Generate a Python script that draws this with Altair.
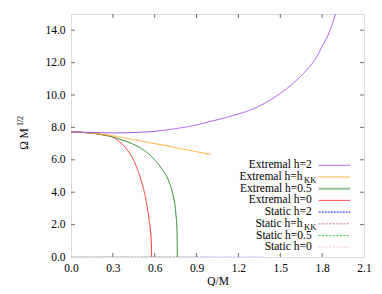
import altair as alt
import pandas as pd

FONT = "'Liberation Serif', 'Times New Roman', serif"
W, H = 293, 243
XMAX, YMAX = 2.1, 15.0

# Extremal curves
q_h2 = [0.0, 0.1, 0.2, 0.3, 0.4, 0.5, 0.6, 0.7, 0.8, 0.9, 1.0, 1.1, 1.2, 1.3, 1.4, 1.5, 1.6, 1.7, 1.75, 1.8, 1.85, 1.9]
w_h2 = [7.72, 7.70, 7.68, 7.66, 7.67, 7.70, 7.76, 7.86, 7.99, 8.15, 8.37, 8.58, 8.83, 9.12, 9.55, 10.10, 10.78, 11.65, 12.20, 13.00, 13.85, 15.10]

q_hkk = [0.0, 0.1, 0.2, 0.3, 0.4, 0.5, 0.6, 0.7, 0.8, 0.9, 1.0]
w_hkk = [7.72, 7.68, 7.60, 7.48, 7.33, 7.16, 7.00, 6.84, 6.66, 6.50, 6.33]

q_h05 = [0.0, 0.1, 0.2, 0.3, 0.4, 0.5, 0.6, 0.65, 0.7, 0.73, 0.75, 0.76, 0.762]
w_h05 = [7.72, 7.68, 7.58, 7.40, 7.12, 6.72, 6.00, 5.45, 4.70, 3.85, 2.80, 1.60, 0.0]

q_h0 = [0.0, 0.1, 0.2, 0.3, 0.35, 0.4, 0.45, 0.5, 0.54, 0.56, 0.575, 0.578]
w_h0 = [7.72, 7.68, 7.58, 7.40, 7.10, 6.65, 5.95, 4.80, 3.40, 2.30, 1.00, 0.0]

# Static curves (Omega = 0)
q_s2 = [0.0, 1.38]
q_skk = [0.0, 1.0]
q_s05 = [0.0, 0.762]
q_s0 = [0.0, 0.578]
w_static = [0.0, 0.0]

labels = ["Extremal h=2", "Extremal h=h", "Extremal h=0.5", "Extremal h=0",
          "Static h=2", "Static h=h", "Static h=0.5", "Static h=0"]
subscripts = ["", "KK", "", "", "", "KK", "", ""]

x_ticks = [0.0, 0.3, 0.6, 0.9, 1.2, 1.5, 1.8, 2.1]
y_ticks = [0.0, 2.0, 4.0, 6.0, 8.0, 10.0, 12.0, 14.0]

styles = [
    dict(color="#a855ee", width=1.0, dash=[1, 0], opacity=1.0),
    dict(color="#ffb030", width=1.0, dash=[1, 0], opacity=1.0),
    dict(color="#2a8a2a", width=1.0, dash=[1, 0], opacity=1.0),
    dict(color="#ff3030", width=1.0, dash=[1, 0], opacity=1.0),
    dict(color="#2020ff", width=1.0, dash=[2, 1], opacity=1.0),
    dict(color="#d89090", width=1.5, dash=[2, 1.5], opacity=0.8),
    dict(color="#40e040", width=1.0, dash=[2, 1.5], opacity=1.0),
    dict(color="#f4c8d4", width=1.0, dash=[2, 1.5], opacity=1.0),
]
legend_styles = list(styles)
legend_styles[2] = dict(color="#2a8a2a", width=2.0, dash=[1, 0], opacity=0.5)
# on the plot the static lines lie on the bottom border and are barely visible
plot_opacity = [1.0, 1.0, 1.0, 1.0, 0.35, 0.35, 0.5, 0.5]

series = [(q_h2, w_h2), (q_hkk, w_hkk), (q_h05, w_h05), (q_h0, w_h0),
          (q_s2, w_static), (q_skk, w_static), (q_s05, w_static), (q_s0, w_static)]

xs = alt.Scale(domain=[0, XMAX], nice=False, zero=False)
ys = alt.Scale(domain=[0, YMAX], nice=False, zero=False)

x_axis = alt.Axis(
    values=x_ticks, format=".1f", title="Q/M", tickSize=0, domain=False,
    grid=False, labelFont=FONT, labelFontSize=11.5, labelColor="black",
    labelPadding=5, labelOverlap=False, titleFont=FONT, titleFontSize=11.5,
    titleFontWeight="normal", titleColor="black", titlePadding=2,
    labelFlush=False)
y_axis = alt.Axis(
    values=y_ticks, format=".1f", title=None, tickSize=0, domain=False,
    grid=False, labelFont=FONT, labelFontSize=11.5, labelColor="black",
    labelPadding=6, labelOverlap=False, labelFlush=False)


def px2x(p):
    return XMAX * p / W


def py2y(p):
    return YMAX * (1 - p / H)


def X(f):
    return alt.X(f, scale=xs, axis=x_axis)


def Y(f):
    return alt.Y(f, scale=ys, axis=y_axis)


layers = []

# draw static first, extremal on top
order = [4, 5, 6, 7, 3, 2, 1, 0]
for i in order:
    q, w = series[i]
    st = styles[i]
    df = pd.DataFrame({"q": q, "w": w})
    layers.append(
        alt.Chart(df).mark_line(
            color=st["color"], strokeWidth=st["width"], strokeDash=st["dash"],
            opacity=st["opacity"] * plot_opacity[i], clip=True, interpolate="monotone"
        ).encode(x=X("q:Q"), y=Y("w:Q"))
    )

# inside ticks (all four sides)
tick_len = 4
tick_color = "#707070"
xt = pd.DataFrame({"v": x_ticks[1:-1]})
yt = pd.DataFrame({"v": y_ticks[1:]})
layers.append(alt.Chart(xt).mark_rule(color=tick_color, strokeWidth=1).encode(
    x=X("v:Q"), y=alt.value(H), y2=alt.value(H - tick_len)))
layers.append(alt.Chart(xt).mark_rule(color=tick_color, strokeWidth=1).encode(
    x=X("v:Q"), y=alt.value(0), y2=alt.value(tick_len)))
layers.append(alt.Chart(yt).mark_rule(color=tick_color, strokeWidth=1).encode(
    y=Y("v:Q"), x=alt.value(0), x2=alt.value(tick_len)))
layers.append(alt.Chart(yt).mark_rule(color=tick_color, strokeWidth=1).encode(
    y=Y("v:Q"), x=alt.value(W), x2=alt.value(W - tick_len)))

# custom gnuplot-style legend (text left, sample right)
row0, step = 151.3, 11.7
text_right = 240.7
sub_left = 233.0
samp_l, samp_r = 247.7, 279.3
main_rows = []
sub_rows = []
for i, (lab, sub) in enumerate(zip(labels, subscripts)):
    py = row0 + i * step
    if sub:
        main_rows.append({"t": lab, "x": px2x(sub_left - 1.5), "y": py2y(py)})
        sub_rows.append({"t": sub, "x": px2x(sub_left), "y": py2y(py + 3.2)})
    else:
        main_rows.append({"t": lab, "x": px2x(text_right), "y": py2y(py)})
    st = legend_styles[i]
    sd = pd.DataFrame({"x": [px2x(samp_l)], "x2": [px2x(samp_r)], "y": [py2y(py)]})
    layers.append(alt.Chart(sd).mark_rule(
        color=st["color"], strokeWidth=st["width"], strokeDash=st["dash"], opacity=st["opacity"]
    ).encode(x=X("x:Q"), x2="x2:Q", y=Y("y:Q")))

layers.append(alt.Chart(pd.DataFrame(main_rows)).mark_text(
    align="right", baseline="middle", font=FONT, fontSize=11.5, color="black"
).encode(x=X("x:Q"), y=Y("y:Q"), text="t:N"))
layers.append(alt.Chart(pd.DataFrame(sub_rows)).mark_text(
    align="left", baseline="middle", font=FONT, fontSize=8.5, color="black"
).encode(x=X("x:Q"), y=Y("y:Q"), text="t:N"))

# y-axis title with superscript
ytitle = alt.Chart(pd.DataFrame({"t": ["\u03a9 M"]})).mark_text(
    angle=270, align="center", baseline="middle", font=FONT, fontSize=11.5, color="black"
).encode(x=alt.value(-46), y=alt.value(125), text="t:N")
ysup = alt.Chart(pd.DataFrame({"t": ["1/2"]})).mark_text(
    angle=270, align="center", baseline="middle", font=FONT, fontSize=8, color="black"
).encode(x=alt.value(-50), y=alt.value(107), text="t:N")
layers += [ytitle, ysup]

chart = alt.layer(*layers).properties(
    width=W, height=H,
    autosize=alt.AutoSizeParams(type="none"),
    padding={"left": 63, "top": 6, "right": 10, "bottom": 29},
).configure_view(stroke="#606060", strokeWidth=1).configure(background="white")

chart.save("out.html", embed_options={"renderer": "svg", "actions": False})
